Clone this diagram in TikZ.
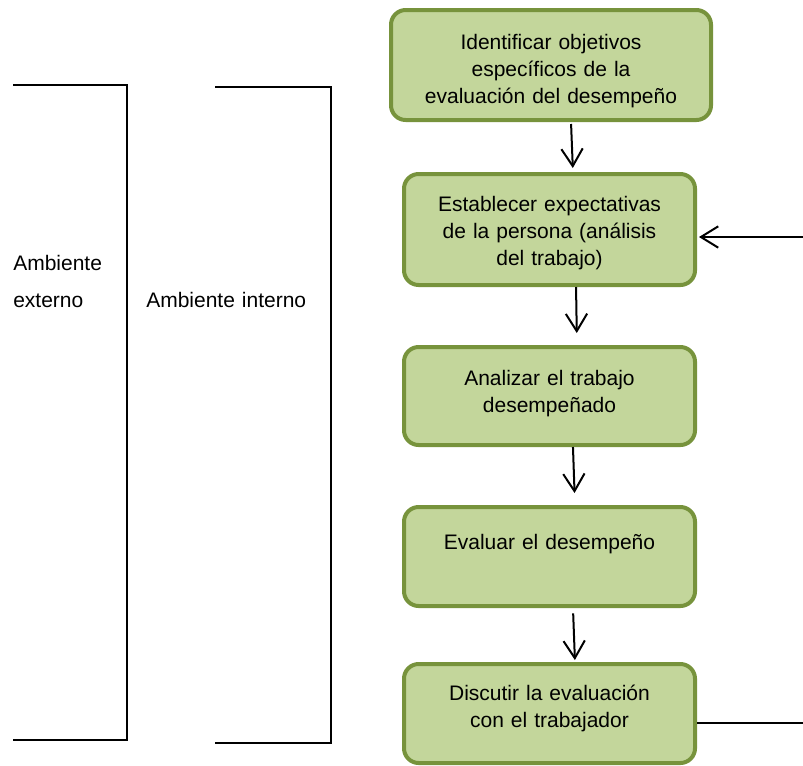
\documentclass[tikz,border=0pt]{standalone}
\usepackage{fontspec}
\setmainfont{Liberation Sans}
\usetikzlibrary{arrows.meta}
\definecolor{boxfill}{HTML}{C3D69B}
\definecolor{boxline}{HTML}{77933C}
\begin{document}
\begin{tikzpicture}[x=0.75pt,y=-0.75pt,
  stepbox/.style={draw=boxline, fill=boxfill, line width=3pt, rounded corners=11pt, inner sep=0pt},
  steptext/.style={anchor=base, text width=230pt, align=center, inner sep=0pt,
    font=\fontsize{15.75pt}{20.25pt}\selectfont},
  sidetext/.style={anchor=base west, text width=120pt, align=left, inner sep=0pt,
    font=\fontsize{15.75pt}{27.75pt}\selectfont},
  flow/.style={line width=1.5pt, -{Straight Barb[length=13pt,width=16pt,line width=1.5pt]}},
  rule/.style={line width=1.4pt}]
\useasboundingbox (0,0) rectangle (803,765);

% environment brackets
\draw[rule] (13,85) -- (127,85) -- (127,740) -- (13,740);
\draw[rule] (215,87) -- (331,87) -- (331,743) -- (215,743);
\node[sidetext] (ext) at (13,270) {Ambiente\\externo};
\node[sidetext] (int) at (146,307) {Ambiente interno};

% process steps
\node[stepbox, minimum width=240pt, minimum height=82.5pt] (box1) at (551,65) {};
\node[stepbox, minimum width=218.25pt, minimum height=83.25pt] (box2) at (549.5,229.5) {};
\node[stepbox, minimum width=218.25pt, minimum height=73.5pt] (box3) at (549.5,396) {};
\node[stepbox, minimum width=218.25pt, minimum height=74.25pt] (box4) at (549.5,556.5) {};
\node[stepbox, minimum width=218.25pt, minimum height=74.25pt] (box5) at (549.5,713.5) {};

\node[steptext] (t1) at (551,49) {Identificar objetivos\\específicos de la\\evaluación del desempeño};
\node[steptext] (t2) at (549.5,211) {Establecer expectativas\\de la persona (análisis\\del trabajo)};
\node[steptext] (t3) at (549.5,385) {Analizar el trabajo\\desempeñado};
\node[steptext] (t4) at (549.5,549) {Evaluar el desempeño};
\node[steptext] (t5) at (549.5,700) {Discutir la evaluación\\con el trabajador};

% flow arrows
\draw[flow, shorten <=1.5pt, shorten >=3pt] ([xshift=15pt]box1.south) -- ([xshift=17.6pt]box2.north);
\draw[flow, shorten >=9pt] ([xshift=19.9pt]box2.south) -- ([xshift=20.6pt]box3.north);
\draw[flow, shorten >=9pt] ([xshift=17.6pt]box3.south) -- ([xshift=19.1pt]box4.north);
\draw[flow, shorten <=4pt, shorten >=1.5pt] ([xshift=17.6pt]box4.south) -- ([xshift=19.1pt]box5.north);

% feedback line
\coordinate (fbin) at (803,237);
\coordinate (fbout) at (803,723);
\draw[flow, shorten >=1.5pt] (fbin) -- (fbin -| box2.east);
\draw[rule] (fbout -| box5.east) -- (fbout);
\end{tikzpicture}
\end{document}
